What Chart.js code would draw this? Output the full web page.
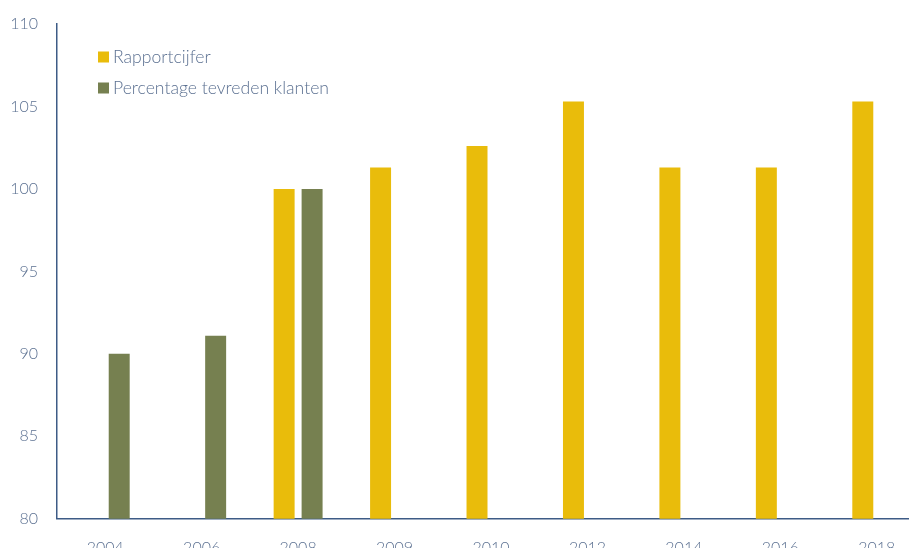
<!DOCTYPE html>
<html>
<head>
<meta charset="utf-8">
<script src="https://cdn.jsdelivr.net/npm/chart.js@4/dist/chart.umd.min.js"></script>
<style>
  html, body { margin: 0; padding: 0; background: #fff; overflow: hidden; }
  #wrap { width: 909px; height: 548px; overflow: hidden; position: relative; }
  #box { width: 925px; height: 576px; position: absolute; left: 0; top: 0; }
</style>
</head>
<body>
<div id="wrap"><div id="box"><canvas id="chart"></canvas></div></div>
<script>
// jaren op de x-as
const years = ['2004', '2006', '2008', '2009', '2010', '2012', '2014', '2016', '2018'];
// geindexeerd, 2008 = 100
const rapportcijfer = [null, null, 100, 101.3, 102.6, 105.3, 101.3, 101.3, 105.3];
const tevredenKlanten = [90, 91.1, 100, null, null, null, null, null, null];
const yTicks = [80, 85, 90, 95, 100, 105, 110];

const axisColor = '#3d5b86';
const textColor = '#5b7091';
const fontFamily = 'Lato, "Open Sans", sans-serif';

// legend boxes in the top left corner, stacked
const cornerLegend = {
    id: 'cornerLegend',
    afterDraw(chart) {
        const ctx = chart.ctx;
        ctx.save();
        ctx.font = '300 17.6px ' + fontFamily;
        ctx.textBaseline = 'middle';
        chart.data.datasets.forEach((ds, i) => {
            let y = 57 + i * 31;
            ctx.fillStyle = ds.backgroundColor;
            ctx.fillRect(98, y - 5.5, 11, 11);
            ctx.fillStyle = textColor;
            ctx.fillText(ds.label, 113, y);
        });
        ctx.restore();
    }
};

new Chart(document.getElementById('chart'), {
    type: 'bar',
    data: {
        labels: years,
        datasets: [{
            label: 'Rapportcijfer',
            data: rapportcijfer,
            backgroundColor: '#e9bc0b',
            categoryPercentage: 0.58,
            barPercentage: 0.75
        }, {
            label: 'Percentage tevreden klanten',
            data: tevredenKlanten,
            backgroundColor: '#768050',
            categoryPercentage: 0.58,
            barPercentage: 0.75
        }]
    },
    options: {
        responsive: true,
        maintainAspectRatio: false,
        animation: false,
        layout: { padding: { top: 24, left: 0, right: 0, bottom: 0 } },
        plugins: {
            legend: { display: false },
            tooltip: { enabled: false }
        },
        scales: {
            x: {
                grid: { display: false, drawTicks: false },
                border: { color: axisColor, width: 1.5 },
                ticks: { color: textColor, font: { family: fontFamily, size: 16, weight: 300 }, padding: 19 }
            },
            y: {
                min: 80,
                max: 110,
                afterFit(scale) {
                    scale.width = 57;
                    // tick padding should only push labels sideways
                    scale.paddingTop = 0;
                    scale.paddingBottom = 0;
                },
                afterBuildTicks(scale) { scale.ticks = yTicks.map(v => ({ value: v })); },
                grid: { display: false, drawTicks: false },
                border: { color: axisColor, width: 1.5 },
                ticks: { color: textColor, font: { family: fontFamily, size: 16, weight: 300 }, padding: 19 }
            }
        }
    },
    plugins: [cornerLegend]
});
</script>
</body>
</html>
